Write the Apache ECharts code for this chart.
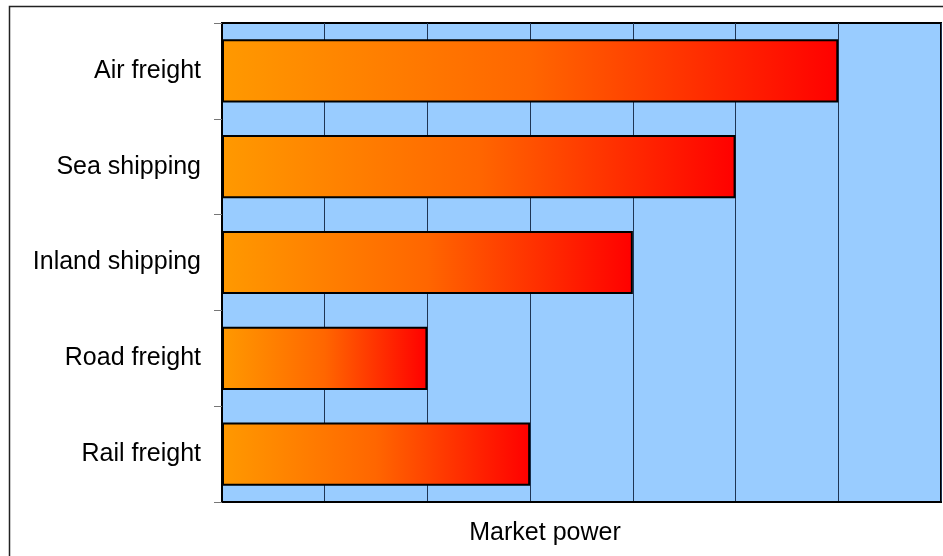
<!DOCTYPE html>
<html>
<head>
<meta charset="utf-8">
<script src="https://cdn.jsdelivr.net/npm/echarts@6/dist/echarts.min.js"></script>
<style>
  html, body { margin: 0; padding: 0; background: #fff; }
  #chart { width: 943px; height: 556px; }
</style>
</head>
<body>
<div id="chart"></div>
<script>
// Transport modes, listed top to bottom
const categories = ['Air freight', 'Sea shipping', 'Inland shipping', 'Road freight', 'Rail freight'];
// Market power score for each mode
const marketPower = [6, 5, 4, 2, 3];
const axisName = 'Market power';

const chart = echarts.init(document.getElementById('chart'));

const barFill = new echarts.graphic.LinearGradient(0, 0, 1, 0, [
  { offset: 0, color: '#FF9900' },
  { offset: 0.5, color: '#FF6600' },
  { offset: 1, color: '#FF0000' }
]);

chart.setOption({
  animation: false,
  textStyle: { fontFamily: 'Liberation Sans, Arial, sans-serif' },
  grid: {
    left: 222, top: 23, right: 2, bottom: 54,
    show: true,
    backgroundColor: '#99CCFF',
    borderColor: '#000',
    borderWidth: 2
  },
  graphic: [
    {
      type: 'rect',
      shape: { x: 9.5, y: 6.5, width: 1200, height: 1200 },
      style: { fill: 'none', stroke: '#222', lineWidth: 1.5 },
      silent: true,
      z: -1
    },
    {
      type: 'text',
      x: 545, y: 533,
      style: {
        text: axisName,
        font: '25px "Liberation Sans", Arial, sans-serif',
        fill: '#000',
        align: 'center',
        verticalAlign: 'middle'
      }
    }
  ],
  xAxis: {
    type: 'value',
    min: 0, max: 7, interval: 1,
    axisLabel: { show: false },
    axisTick: { show: false },
    axisLine: { show: true, lineStyle: { color: '#000', width: 2 } },
    splitLine: { show: true, lineStyle: { color: '#1F3555', width: 1 } }
  },
  yAxis: {
    type: 'category',
    inverse: true,
    data: categories,
    axisLine: { show: true, lineStyle: { color: '#000', width: 2 } },
    axisTick: { show: true, length: 8, alignWithLabel: false, lineStyle: { color: '#777', width: 1 } },
    axisLabel: { color: '#000', fontSize: 25, margin: 21 }
  },
  series: [{
    type: 'bar',
    data: marketPower,
    barWidth: '66%',
    itemStyle: {
      color: barFill,
      borderColor: '#000',
      borderWidth: 2
    }
  }]
});
</script>
</body>
</html>
